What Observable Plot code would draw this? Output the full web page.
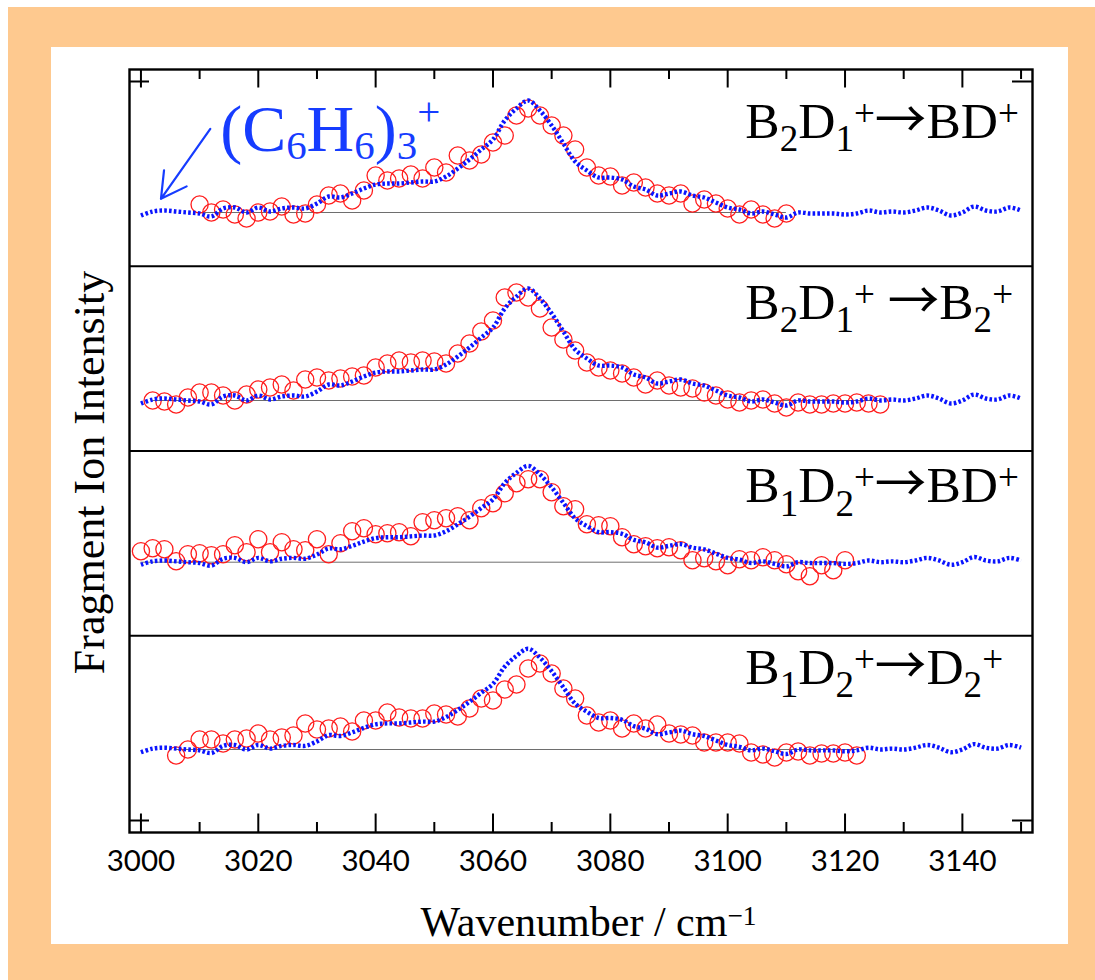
<!DOCTYPE html>
<html>
<head>
<meta charset="utf-8">
<script src="https://cdn.jsdelivr.net/npm/d3@7"></script>
<script src="https://cdn.jsdelivr.net/npm/@observablehq/plot@0.6"></script>
<style>
  html, body { margin: 0; padding: 0; background: #ffffff; }
  #page { position: relative; width: 1095px; height: 980px; overflow: hidden; }
  #border { position: absolute; left: 8px; top: 7px; width: 1087px; height: 973px; background: #fec98f; }
  #sheet { position: absolute; left: 51px; top: 47px; width: 1017px; height: 897px; background: #ffffff; }
  #chart { position: absolute; left: 0; top: 0; }
</style>
</head>
<body>
<div id="page">
  <div id="border"></div>
  <div id="sheet"></div>
  <div id="chart"></div>
</div>
<script>
// ---- data -------------------------------------------------------------
// Panel titles (markup: _{..} subscript, ^{..} superscript)
const panelTitles = [
  "B_{2}D_{1}^{+}→BD^{+}",
  "B_{2}D_{1}^{+} →B_{2}^{+}",
  "B_{1}D_{2}^{+}→BD^{+}",
  "B_{1}D_{2}^{+}→D_{2}^{+}"
];

// Fragment-ion spectra (red circles), 2 cm-1 steps from the given start
const fragStart = [3010, 3002, 3000, 3006];
const fragB2D1_BD = [0.08, 0.0, 0.03, -0.02, -0.06, 0.0, 0.01, 0.06, -0.02, -0.01,
  0.08, 0.17, 0.19, 0.12, 0.22, 0.37, 0.32, 0.34, 0.38, 0.34,
  0.45, 0.40, 0.57, 0.52, 0.58, 0.70, 0.77, 0.97, 1.04, 0.97,
  0.87, 0.77, 0.63, 0.45, 0.37, 0.36, 0.27, 0.30, 0.25, 0.19,
  0.17, 0.19, 0.09, 0.13, 0.09, 0.04, -0.02, 0.03, -0.02, -0.06, -0.01];
const fragB2D1_B2 = [0.0, -0.01, -0.04, 0.03, 0.08, 0.08, 0.05, 0.0, 0.06, 0.11,
  0.13, 0.16, 0.10, 0.21, 0.23, 0.20, 0.22, 0.24, 0.25, 0.33,
  0.37, 0.40, 0.38, 0.40, 0.39, 0.37, 0.47, 0.57, 0.69, 0.80,
  1.03, 1.08, 1.03, 0.92, 0.73, 0.61, 0.50,
  0.38, 0.33, 0.30, 0.27, 0.23, 0.16, 0.20, 0.15, 0.13, 0.12,
  0.08, 0.05, 0.01, -0.02, 0.0, 0.01, -0.03, -0.07, -0.02, -0.04,
  -0.04, -0.03, -0.03, -0.02, -0.03, -0.04];
const fragB1D2_BD = [0.11, 0.14, 0.13, 0.01, 0.08, 0.09, 0.07, 0.08, 0.17, 0.10,
  0.23, 0.10, 0.20, 0.13, 0.12, 0.23, 0.08, 0.19, 0.31, 0.34,
  0.28, 0.29, 0.30, 0.26, 0.40, 0.42, 0.44, 0.46, 0.42, 0.54,
  0.59, 0.69, 0.79, 0.83, 0.83, 0.70, 0.56, 0.53,
  0.38, 0.37, 0.36, 0.25, 0.18, 0.16, 0.14, 0.15, 0.12, 0.02,
  0.04, 0.01, -0.03, 0.03, 0.02, 0.05, 0.02, -0.02, -0.09, -0.14,
  -0.03, -0.08, 0.02];
const fragB1D2_D2 = [-0.06, 0.0, 0.10, 0.10, 0.06, 0.10, 0.11, 0.16, 0.10, 0.12,
  0.14, 0.26, 0.20, 0.21, 0.23, 0.18, 0.29, 0.29, 0.37, 0.32,
  0.31, 0.31, 0.36, 0.35, 0.33, 0.41, 0.51, 0.49, 0.60, 0.65,
  0.81, 0.86, 0.76, 0.61, 0.51,
  0.34, 0.27, 0.29, 0.21, 0.26, 0.21, 0.25, 0.16, 0.15, 0.14,
  0.07, 0.07, 0.07, 0.06, -0.03, -0.05, -0.08, -0.03, -0.02, -0.06,
  -0.04, -0.04, -0.03, -0.06];
const fragSeries = [fragB2D1_BD, fragB2D1_B2, fragB1D2_BD, fragB1D2_D2];

// (C6H6)3+ reference spectrum (blue dotted), 3000–3150 cm-1 in 2 cm-1 steps
const refStart = 3000;
const refC6H6 = [
  -0.03, 0.01, 0.02, 0.01, 0.0, -0.01, -0.04, 0.04, 0.05, 0.0,
  0.05, 0.01, 0.04, 0.05, 0.04, 0.09, 0.16, 0.15, 0.19, 0.24,
  0.28, 0.29, 0.29, 0.30, 0.31, 0.31, 0.36, 0.44, 0.53, 0.63,
  0.73, 0.92, 1.04, 1.12, 1.02, 0.87, 0.69, 0.51, 0.42, 0.35,
  0.35, 0.33, 0.26, 0.23, 0.17, 0.19, 0.21, 0.17, 0.15, 0.10,
  0.05, 0.03, -0.01, 0.01, -0.02, -0.05, 0.0, -0.01, -0.01, -0.01,
  -0.02, -0.01, 0.02, 0.0, 0.01, 0.0, 0.02, 0.05, 0.02, -0.03,
  0.0, 0.06, 0.02, 0.01, 0.05, 0.02];
// normalisation of the reference spectrum in each panel
const refScale = [1.0, 1.0, 0.86, 0.9];
// zero level of each panel on the stacked intensity axis
const panelBaseline = [6.08, 4.20, 2.583, 0.71];

// axis ticks
const xLabelTicks = [3000, 3020, 3040, 3060, 3080, 3100, 3120, 3140];
const xMinorTicks = [3010, 3030, 3050, 3070, 3090, 3110, 3130, 3150];

// ---- layout constants ----------------------------------------------------
const X0 = 2998.05, X1 = 3151.95;   // x domain
const Y0 = -0.12, Y1 = 7.51;        // stacked y domain
const PANEL_H = 1.8475;             // height of one panel in y units
const pxPerX = 903 / (X1 - X0);
const SERIF = "'Liberation Serif', 'Times New Roman', serif";
const BLUE = "#0a14ff";
const LABEL_BLUE = "#163cff";
const TITLE_SIZE = 51.5;

// ---- tables for the marks ------------------------------------------------
const frag = fragSeries.flatMap((vals, k) =>
  vals.map((v, i) => ({panel: k, w: fragStart[k] + 2 * i, y: panelBaseline[k] + v})));
const ref = panelBaseline.flatMap((b, k) =>
  refC6H6.map((v, i) => ({panel: k, w: refStart + 2 * i, y: b + refScale[k] * v})));
const zeroLines = fragSeries.map((vals, k) => ({
  y: panelBaseline[k], x1: fragStart[k], x2: fragStart[k] + 2 * (vals.length - 1)
}));
// title baselines sit a fixed distance below each panel's top
const titleDrop = [0.56, 0.528, 0.512, 0.48];
const titles = panelTitles.map((t, k) => ({t, y: (4 - k) * PANEL_H - titleDrop[k]}));
const tickLong = 0.185, tickShort = 0.10, sideTick = 20 / pxPerX;

const plot = Plot.plot({
  width: 1095,
  height: 980,
  marginLeft: 129,
  marginRight: 63,
  marginTop: 69,
  marginBottom: 148,
  style: {background: "none", color: "black", overflow: "visible"},
  x: {domain: [X0, X1]},
  y: {domain: [Y0, Y1], axis: null},
  marks: [
    // zero levels
    Plot.ruleY(zeroLines, {y: "y", x1: "x1", x2: "x2", stroke: "#6e6e6e", strokeWidth: 1}),
    // fragment spectra
    Plot.dot(frag, {x: "w", y: "y", r: 8.6, stroke: "#ff1c1c", strokeWidth: 1.3, fill: "none"}),
    // reference spectrum
    Plot.line(ref, {x: "w", y: "y", z: "panel", stroke: BLUE, strokeWidth: 4.4,
      strokeDasharray: "2.6 2.2", strokeLinecap: "butt", curve: "catmull-rom"}),
    // panel separators and frame
    Plot.ruleY([1, 2, 3].map(k => k * PANEL_H), {stroke: "black", strokeWidth: 2.2}),
    Plot.frame({stroke: "black", strokeWidth: 2.4}),
    // inward x ticks on bottom and top edges
    Plot.ruleX(xLabelTicks, {y1: Y0, y2: Y0 + tickLong, stroke: "black", strokeWidth: 2}),
    Plot.ruleX(xMinorTicks, {y1: Y0, y2: Y0 + tickShort, stroke: "black", strokeWidth: 2}),
    Plot.ruleX(xLabelTicks, {y1: Y1 - tickLong, y2: Y1, stroke: "black", strokeWidth: 2}),
    Plot.ruleX(xMinorTicks, {y1: Y1 - tickShort, y2: Y1, stroke: "black", strokeWidth: 2}),
    // y ticks at the ends of the intensity range
    Plot.ruleY([0, 4 * PANEL_H], {x1: X0, x2: X0 + sideTick, stroke: "black", strokeWidth: 2}),
    Plot.ruleY([0, 4 * PANEL_H], {x1: X1 - sideTick, x2: X1, stroke: "black", strokeWidth: 2}),
    // tick labels
    Plot.axisX(xLabelTicks, {anchor: "bottom", tickSize: 0, tickPadding: 18, label: null,
      fontSize: 29.5, fontFamily: "Lato, 'DejaVu Sans', sans-serif", tickFormat: d => String(d)}),
    // panel titles
    Plot.text(titles, {x: 3103.0, y: "y", text: "t", textAnchor: "start", lineAnchor: "bottom",
      fontSize: TITLE_SIZE, fontFamily: SERIF, fill: "black"}),
    // reference label and arrow
    Plot.text(["(C_{6}H_{6})_{3}^{+}"], {x: 3013.5, y: 6.693, textAnchor: "start", lineAnchor: "bottom",
      fontSize: 66, fontFamily: SERIF, fill: LABEL_BLUE}),
    Plot.arrow([{x1: 3011.82, y1: 6.917, x2: 3003.41, y2: 6.217}], {x1: "x1", y1: "y1", x2: "x2", y2: "y2",
      stroke: LABEL_BLUE, strokeWidth: 2.2, headLength: 24, headAngle: 58}),
    // axis titles
    Plot.text(["Wavenumber / cm^{−1}"], {frameAnchor: "bottom", dx: 7.5, dy: 103, lineAnchor: "bottom",
      fontSize: 42, fontFamily: SERIF, fill: "black"}),
    Plot.text(["Fragment Ion Intensity"], {frameAnchor: "left", rotate: -90, dx: -26, dy: 21.5,
      textAnchor: "middle", lineAnchor: "bottom", fontSize: 44, fontFamily: SERIF, fill: "black"})
  ]
});

// ---- sub/superscript rendering ------------------------------------------
function parseRich(s) {
  const out = [];
  let buf = "", i = 0;
  const flush = () => { if (buf) { out.push({t: buf, k: 0}); buf = ""; } };
  while (i < s.length) {
    const c = s[i];
    if ((c === "_" || c === "^") && s[i + 1] === "{") {
      flush();
      const j = s.indexOf("}", i);
      out.push({t: s.slice(i + 2, j), k: c === "_" ? -1 : 1});
      i = j + 1;
    } else if (c === "→") {
      flush();
      out.push({t: c, k: 0, arrow: true});
      i++;
    } else { buf += c; i++; }
  }
  flush();
  return out;
}
function richify(el, fs, o) {
  const segs = parseRich(el.textContent);
  el.textContent = "";
  let cur = 0;
  for (const s of segs) {
    const target = s.k < 0 ? o.subShift * fs : s.k > 0 ? -o.supShift * fs : 0;
    const ts = document.createElementNS("http://www.w3.org/2000/svg", "tspan");
    if (target !== cur) ts.setAttribute("dy", (target - cur).toFixed(2));
    if (s.k) ts.setAttribute("font-size", ((s.k < 0 ? o.subSize : o.supSize) * fs).toFixed(2));
    if (s.arrow) ts.setAttribute("font-family", "'Noto Sans CJK JP', 'DejaVu Sans', sans-serif");
    ts.textContent = s.t;
    el.appendChild(ts);
    cur = target;
  }
}
d3.select(plot).selectAll("text").each(function () {
  const t = this.textContent;
  if (!/[_^]\{/.test(t)) return;
  if (t.startsWith("(C")) richify(this, 66, {subSize: 0.62, subShift: 0.115, supSize: 0.62, supShift: 0.39});
  else if (t.startsWith("Wave")) richify(this, 42, {subSize: 0.65, subShift: 0.2, supSize: 0.65, supShift: 0.24});
  else richify(this, TITLE_SIZE, {subSize: 0.72, subShift: 0.26, supSize: 0.72, supShift: 0.23});
});

document.getElementById("chart").appendChild(plot);
</script>
</body>
</html>
